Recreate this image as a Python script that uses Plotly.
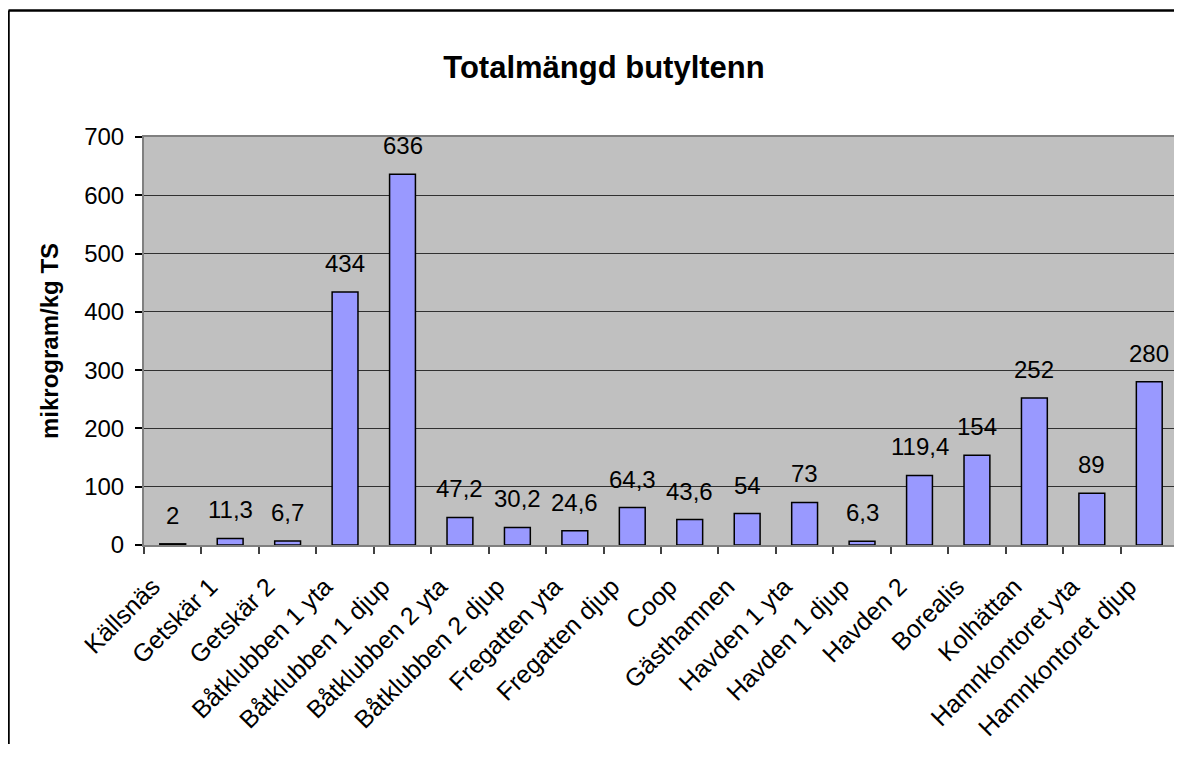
import plotly.graph_objects as go

categories = ["Källsnäs", "Getskär 1", "Getskär 2", "Båtklubben 1 yta", "Båtklubben 1 djup",
              "Båtklubben 2 yta", "Båtklubben 2 djup", "Fregatten yta", "Fregatten djup", "Coop",
              "Gästhamnen", "Havden 1 yta", "Havden 1 djup", "Havden 2", "Borealis", "Kolhättan",
              "Hamnkontoret yta", "Hamnkontoret djup"]
values = [2, 11.3, 6.7, 434, 636, 47.2, 30.2, 24.6, 64.3, 43.6, 54, 73, 6.3, 119.4, 154, 252, 89, 280]
labels = ["2", "11,3", "6,7", "434", "636", "47,2", "30,2", "24,6", "64,3", "43,6", "54", "73",
          "6,3", "119,4", "154", "252", "89", "280"]
y_ticks = [0, 100, 200, 300, 400, 500, 600, 700]

FONT = "Liberation Sans, Arial, sans-serif"
OFF = 8  # page body margin
W, H = 1182 - OFF, 736
L, R, T, B = 144 - OFF, 1178 - OFF, 137 - OFF, 545 - OFF
PW, PH = R - L, B - T

fig = go.Figure(go.Bar(
    x=categories, y=values,
    marker=dict(color="#9999FF", line=dict(color="black", width=1.5)),
    hoverinfo="x+y",
))

annotations = [dict(x=c, y=v, text=t, xref="x", yref="y", showarrow=False,
                    yanchor="bottom", xanchor="center", yshift=13,
                    font=dict(family=FONT, size=24, color="black"))
               for c, v, t in zip(categories, values, labels)]
annotations.append(dict(text="<b>mikrogram/kg TS</b>", xref="paper", yref="paper",
                        x=(49 - OFF - L) / PW, y=0.5, textangle=-90, showarrow=False,
                        xanchor="center", yanchor="middle",
                        font=dict(family=FONT, size=24, color="black")))

bx0 = (0.5 - L) / PW
by1 = 1 + (T - 2.5) / PH
fig.update_layout(
    width=W, height=H,
    margin=dict(l=L, r=W - R, t=T, b=H - B),
    paper_bgcolor="white", plot_bgcolor="#C0C0C0",
    bargap=0.55,
    showlegend=False,
    title=dict(text="<b>Totalmängd butyltenn</b>", x=(604 - OFF) / W, xref="container",
               xanchor="center", y=1 - (67 - OFF) / H, yref="container", yanchor="middle",
               font=dict(family=FONT, size=31, color="black")),
    font=dict(family=FONT, color="black"),
    xaxis=dict(type="category", tickangle=-45, tickson="boundaries", ticks="outside", ticklen=7,
               tickcolor="#404040", tickwidth=1.5, tickfont=dict(family=FONT, size=25, color="black"),
               ticklabelstandoff=15, ticklabelshift=-20,
               showline=True, linecolor="#808080", linewidth=2, mirror=True, showgrid=False,
               automargin=False),
    yaxis=dict(range=[0, 700], tickvals=y_ticks, ticks="outside", ticklen=7, tickcolor="black",
               tickwidth=1.5, tickfont=dict(family=FONT, size=24, color="black"),
               ticklabelstandoff=6,
               showline=True, linecolor="#808080", linewidth=2, mirror=True,
               showgrid=True, gridcolor="#303030", gridwidth=1.2, zeroline=False,
               automargin=False),
    annotations=annotations,
    shapes=[dict(type="line", xref="paper", yref="paper", x0=bx0, x1=bx0,
                 y0=(B - 800) / PH, y1=by1, line=dict(color="black", width=2.5), layer="below"),
            dict(type="line", xref="paper", yref="paper", x0=bx0, x1=(1300 - L) / PW,
                 y0=by1, y1=by1, line=dict(color="black", width=2.5), layer="below")],
)

fig.write_html("out.html")
